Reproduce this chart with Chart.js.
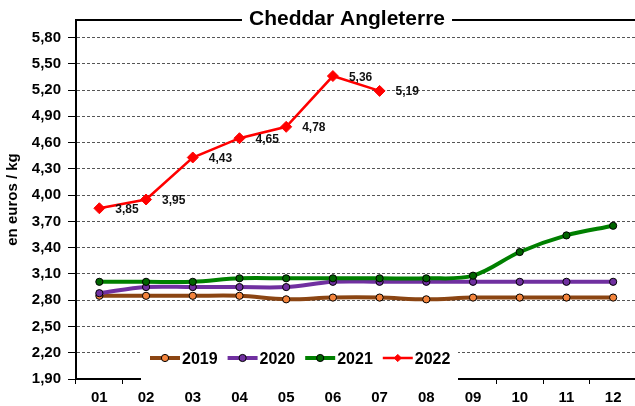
<!DOCTYPE html>
<html lang="fr">
<head>
<meta charset="UTF-8">
<title>Cheddar Angleterre</title>
<script src="https://cdn.jsdelivr.net/npm/chart.js"></script>
<style>
    html, body { margin: 0; padding: 0; background: #fff; overflow: hidden; }
    body { width: 635px; height: 406px; }
    .wrap { width: 643px; height: 406px; position: relative; }
</style>
</head>
<body>
<div class="wrap"><canvas id="chart"></canvas></div>
<script>
    // months and values
    const months = ['01', '02', '03', '04', '05', '06', '07', '08', '09', '10', '11', '12'];
    const yTicks = [1.9, 2.2, 2.5, 2.8, 3.1, 3.4, 3.7, 4.0, 4.3, 4.6, 4.9, 5.2, 5.5, 5.8];
    const years = ['2019', '2020', '2021', '2022'];
    const y2019 = [2.85, 2.85, 2.85, 2.85, 2.81, 2.83, 2.83, 2.81, 2.83, 2.83, 2.83, 2.83];
    const y2020 = [2.88, 2.95, 2.95, 2.95, 2.95, 3.01, 3.01, 3.01, 3.01, 3.01, 3.01, 3.01];
    const y2021 = [3.01, 3.01, 3.01, 3.05, 3.05, 3.05, 3.05, 3.05, 3.08, 3.35, 3.54, 3.65];
    const y2022 = [3.85, 3.95, 4.43, 4.65, 4.78, 5.36, 5.19, null, null, null, null, null];

    const FONT = 'Liberation Sans, Arial, Helvetica, sans-serif';
    Chart.defaults.font.family = FONT;
    Chart.defaults.color = '#000';

    const fmt = v => v.toFixed(2).replace('.', ',');

    // value labels next to the 2022 points
    const pointLabels = {
        id: 'pointLabels',
        afterDatasetsDraw(chart) {
            const meta = chart.getDatasetMeta(3);
            const ctx = chart.ctx;
            ctx.save();
            ctx.font = 'bold 12px ' + FONT;
            ctx.fillStyle = '#111';
            meta.data.forEach((pt, i) => {
                const v = y2022[i];
                if (v == null || isNaN(pt.y)) return;
                ctx.fillText(fmt(v), pt.x + 16, pt.y + 4.5);
            });
            ctx.restore();
        }
    };

    // title over the top frame line, and the legend box inside the plot
    const frame = {
        id: 'frame',
        afterDraw(chart) {
            const ctx = chart.ctx;
            const area = chart.chartArea;
            const title = 'Cheddar Angleterre';
            ctx.save();
            ctx.font = 'bold 21px ' + FONT;
            const tw = ctx.measureText(title).width;
            const cx = 347;
            ctx.strokeStyle = '#000';
            ctx.lineWidth = 2;
            ctx.beginPath();
            ctx.moveTo(area.left - 1, area.top);
            ctx.lineTo(cx - tw / 2 - 7, area.top);
            ctx.moveTo(cx + tw / 2 + 7, area.top);
            ctx.lineTo(chart.width, area.top);
            ctx.stroke();
            ctx.fillStyle = '#000';
            ctx.textAlign = 'center';
            ctx.fillText(title, cx, 25);

            // legend
            ctx.fillStyle = '#fff';
            ctx.fillRect(141, 343, 317, 44);
            ctx.font = 'bold 16px ' + FONT;
            ctx.textAlign = 'left';
            let x = 150;
            const y = 358;
            chart.data.datasets.forEach(ds => {
                ctx.strokeStyle = ds.borderColor;
                ctx.lineWidth = ds.borderWidth;
                ctx.beginPath();
                ctx.moveTo(x, y);
                ctx.lineTo(x + 30, y);
                ctx.stroke();
                ctx.fillStyle = ds.pointBackgroundColor;
                ctx.strokeStyle = ds.pointBorderColor;
                ctx.lineWidth = 1;
                Chart.helpers.drawPoint(ctx, {
                    pointStyle: ds.pointStyle,
                    radius: 3.6,
                    borderWidth: 1,
                    rotation: 0
                }, x + 15, y);
                ctx.fillStyle = '#000';
                ctx.fillText(ds.label, x + 32, y + 5.8);
                x += 32 + ctx.measureText(ds.label).width + 10;
            });
            ctx.restore();
        }
    };

    new Chart(document.getElementById('chart'), {
        type: 'line',
        data: {
            labels: months,
            datasets: [
                {
                    label: years[0], data: y2019, order: 4,
                    borderColor: '#8B4513', borderWidth: 4, tension: 0.35,
                    pointStyle: 'circle', pointRadius: 3.6, pointBorderWidth: 1,
                    pointBackgroundColor: '#F4843C', pointBorderColor: '#000'
                },
                {
                    label: years[1], data: y2020, order: 3,
                    borderColor: '#7030A0', borderWidth: 4, tension: 0.35,
                    pointStyle: 'circle', pointRadius: 3.6, pointBorderWidth: 1,
                    pointBackgroundColor: '#7030A0', pointBorderColor: '#000'
                },
                {
                    label: years[2], data: y2021, order: 2,
                    borderColor: '#008000', borderWidth: 4, tension: 0.35,
                    pointStyle: 'circle', pointRadius: 3.6, pointBorderWidth: 1,
                    pointBackgroundColor: '#006400', pointBorderColor: '#000'
                },
                {
                    label: years[3], data: y2022, order: 1,
                    borderColor: '#FF0000', borderWidth: 2.5, tension: 0,
                    pointStyle: 'rectRot', pointRadius: 5.5, pointBorderWidth: 1,
                    pointBackgroundColor: '#FF0000', pointBorderColor: '#FF0000'
                }
            ]
        },
        options: {
            responsive: true,
            maintainAspectRatio: false,
            animation: false,
            layout: { padding: { top: 20, left: 0, right: 0, bottom: 0 } },
            plugins: {
                legend: { display: false },
                tooltip: { enabled: false }
            },
            scales: {
                x: {
                    type: 'category',
                    offset: true,
                    grid: { offset: true, drawOnChartArea: false, tickLength: 5, color: '#000', lineWidth: 1 },
                    border: { color: '#000', width: 2 },
                    ticks: { font: { size: 15, weight: 'bold' }, padding: 5, maxRotation: 0, autoSkip: false },
                    afterFit: s => { s.height = 27; s.paddingLeft = 0; s.paddingRight = 0; }
                },
                y: {
                    min: 1.9,
                    max: 6.0,
                    afterBuildTicks: s => { s.ticks = yTicks.map(v => ({ value: v })); },
                    grid: { color: '#555', lineWidth: 1, tickLength: 8, tickColor: '#000', tickBorderDash: [] },
                    border: { color: '#000', width: 2, dash: [3, 2] },
                    ticks: { font: { size: 15, weight: 'bold' }, padding: 7, callback: v => fmt(v) },
                    title: {
                        display: true, text: 'en euros / kg',
                        font: { size: 15, weight: 'bold' },
                        padding: { top: 4, bottom: 0 }
                    },
                    afterFit: s => { s.width = 76; }
                }
            }
        },
        plugins: [pointLabels, frame]
    });
</script>
</body>
</html>
